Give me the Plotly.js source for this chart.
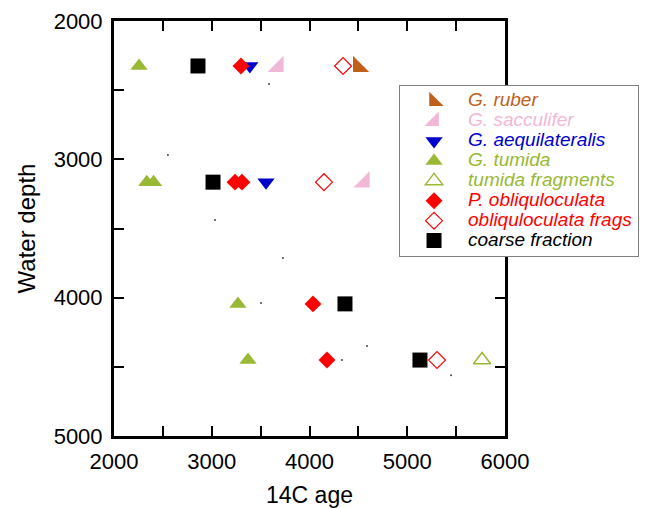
<!DOCTYPE html>
<html>
<head>
<meta charset="utf-8">
<script src="https://cdn.plot.ly/plotly-3.0.1.min.js"></script>
<style>html,body{margin:0;padding:0;background:#fff;}#chart{width:654px;height:508px;}</style>
</head>
<body>
<div id="chart"></div>
<script>
// Data (x = 14C age, y = water depth)
const rubersAge = [4500];
const rubersDepth = [2330];
const sacculiferAge = [3680, 4560];
const sacculiferDepth = [2330, 3165];
const aequilAge = [3390, 3555];
const aequilDepth = [2325, 3165];
const tumidaAge = [2256, 2335, 2405, 3268, 3371];
const tumidaDepth = [2325, 3165, 3165, 4045, 4451];
const tumidaFragAge = [5765];
const tumidaFragDepth = [4451];
const obliqAge = [3299, 3238, 3309, 4036, 4179];
const obliqDepth = [2325, 3165, 3165, 4045, 4451];
const obliqFragAge = [4343, 4148, 5304];
const obliqFragDepth = [2325, 3165, 4451];
const coarseAge = [2859, 3013, 4363, 5130];
const coarseDepth = [2325, 3165, 4045, 4451];
const dotAge = [3586, 2552, 3033, 3729, 3504, 4332, 4588, 5448];
const dotDepth = [2456, 2969, 3439, 3714, 4039, 4451, 4350, 4560];

const xTickVals = [2000, 2500, 3000, 3500, 4000, 4500, 5000, 5500, 6000];
const xTickText = ['2000', '', '3000', '', '4000', '', '5000', '', '6000'];
const yTickVals = [2000, 2500, 3000, 3500, 4000, 4500, 5000];
const yTickText = ['2000', '', '3000', '', '4000', '', '5000'];

const cRuber = '#c0601a', cSacc = '#f0b8d6', cAeq = '#0000cc', cTum = '#99b833', cRed = '#ff0000', cBlack = '#000000';

function nm(t, c) { return '<span style="color:' + c + ';font-size:19px">' + t + '</span>'; }

const traces = [
  {x: rubersAge, y: rubersDepth, name: nm('G. ruber', cRuber), mode: 'markers', type: 'scatter',
   marker: {symbol: 'triangle-sw', size: 18, color: cRuber}},
  {x: sacculiferAge, y: sacculiferDepth, name: nm('G. sacculifer', cSacc), mode: 'markers', type: 'scatter',
   marker: {symbol: 'triangle-se', size: 18, color: cSacc}},
  {x: aequilAge, y: aequilDepth, name: nm('G. aequilateralis', cAeq), mode: 'markers', type: 'scatter',
   marker: {symbol: 'triangle-down', size: 15, color: cAeq}},
  {x: tumidaAge, y: tumidaDepth, name: nm('G. tumida', cTum), mode: 'markers', type: 'scatter',
   marker: {symbol: 'triangle-up', size: 15, color: cTum}},
  {x: tumidaFragAge, y: tumidaFragDepth, name: nm('tumida fragments', cTum), mode: 'markers', type: 'scatter',
   marker: {symbol: 'triangle-up-open', size: 15, color: cTum, line: {width: 1.5}}},
  {x: obliqAge, y: obliqDepth, name: nm('P. obliquloculata', cRed), mode: 'markers', type: 'scatter',
   marker: {symbol: 'diamond', size: 13, color: cRed}},
  {x: obliqFragAge, y: obliqFragDepth, name: nm('obliquloculata frags', cRed), mode: 'markers', type: 'scatter',
   marker: {symbol: 'diamond-open', size: 13, color: cRed, line: {width: 1.2}}},
  {x: coarseAge, y: coarseDepth, name: nm('coarse fraction', cBlack), mode: 'markers', type: 'scatter',
   marker: {symbol: 'square', size: 15, color: cBlack}},
  {x: dotAge, y: dotDepth, name: 'dots', mode: 'markers', type: 'scatter', showlegend: false,
   marker: {symbol: 'circle', size: 2, color: '#444'}}
];

const axisCommon = {
  showgrid: false, zeroline: false, showline: true, linewidth: 3, linecolor: '#000',
  mirror: 'ticks', ticks: 'inside', ticklen: 10, tickwidth: 2, tickcolor: '#000',
  tickfont: {family: 'Liberation Sans, Arial, sans-serif', size: 22, color: '#000'},
  ticklabelstandoff: 4
};

const layout = {
  width: 654, height: 508,
  margin: {l: 114, r: 149, t: 21, b: 72},
  paper_bgcolor: '#fff', plot_bgcolor: '#fff',
  font: {family: 'Liberation Sans, Arial, sans-serif', color: '#000'},
  xaxis: Object.assign({}, axisCommon, {
    range: [2000, 6000], tickmode: 'array', tickvals: xTickVals, ticktext: xTickText,
    title: {text: '14C age', font: {size: 23, color: '#000'}, standoff: 15}
  }),
  yaxis: Object.assign({}, axisCommon, {
    range: [5000, 2000], tickmode: 'array', tickvals: yTickVals, ticktext: yTickText,
    title: {text: 'Water depth', font: {size: 24, color: '#000'}, standoff: 12}
  }),
  showlegend: true,
  legend: {
    x: 0.729, y: 0.845, xanchor: 'left', yanchor: 'top',
    bgcolor: '#fff', bordercolor: '#808080', borderwidth: 1,
    font: {family: 'Liberation Sans, Arial, sans-serif', size: 13, style: 'italic'},
    itemwidth: 58, tracegroupgap: 0
  }
};

Plotly.newPlot('chart', traces, layout, {displayModeBar: false, staticPlot: true});
</script>
</body>
</html>
